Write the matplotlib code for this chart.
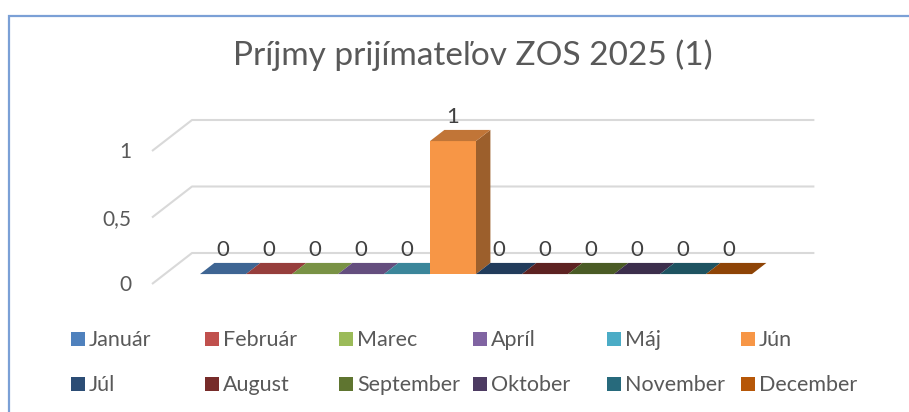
import numpy as np
import matplotlib
matplotlib.use('Agg')
import matplotlib.pyplot as plt
from matplotlib.patches import Polygon, Rectangle
import matplotlib.colors as mcolors

# data
months = ['Január', 'Február', 'Marec', 'Apríl', 'Máj', 'Jún',
          'Júl', 'August', 'September', 'Oktober', 'November', 'December']
values = [0, 0, 0, 0, 0, 1, 0, 0, 0, 0, 0, 0]
colors = ['#4F81BD', '#C0504D', '#9BBB59', '#8064A2', '#4BACC6', '#F79646',
          '#2C4D75', '#772C2A', '#5F7530', '#4D3B62', '#276A7C', '#B65708']
yticks = [0, 0.5, 1]
ytick_labels = ['0', '0,5', '1']
title = 'Príjmy prijímateľov ZOS 2025 (1)'

plt.rcParams['font.family'] = ['Lato', 'DejaVu Sans']
txt_color = '#595959'

W, H = 909, 412
fig = plt.figure(figsize=(W / 100, H / 100), dpi=100)
ax = fig.add_axes([0, 0, 1, 1])
ax.axis('off')

# layout of the fake 3d box (pixels)
slot_px = 46.0
unit_px = 133.0
org_x, org_y = 187.2, 284.0
depth_dx, depth_dy = 40.0, 31.0
ax.set_xlim(-org_x / slot_px, (W - org_x) / slot_px)
ax.set_ylim(-(H - org_y) / unit_px, org_y / unit_px)
kx = depth_dx / slot_px
kz = depth_dy / unit_px


def proj(x, z, d):
    return (x + d * kx, z + d * kz)


n = len(values)
margin = 0.765
xl, xr = -margin, n + margin

# walls / gridlines
for z in yticks:
    pts = [proj(xl, z, 0), proj(xl, z, 1), proj(xr, z, 1)]
    ax.plot([p[0] for p in pts], [p[1] for p in pts], color='#d9d9d9',
            lw=1.5, solid_capstyle='butt', zorder=1)

for z, lab in zip(yticks, ytick_labels):
    ax.annotate(lab, xy=proj(xl, z, 0), xytext=(-15, -1), textcoords='offset points',
                ha='right', va='center', fontsize=15, color=txt_color)


def shade(c, f):
    r, g, b = mcolors.to_rgb(c)
    return (r * f, g * f, b * f)


# bars
d0, d1 = 0.32, 0.68
for i, (v, c) in enumerate(zip(values, colors)):
    front = [proj(i, 0, d0), proj(i + 1, 0, d0), proj(i + 1, v, d0), proj(i, v, d0)]
    side = [proj(i + 1, 0, d0), proj(i + 1, 0, d1), proj(i + 1, v, d1), proj(i + 1, v, d0)]
    top = [proj(i, v, d0), proj(i + 1, v, d0), proj(i + 1, v, d1), proj(i, v, d1)]
    if v > 0:
        ax.add_patch(Polygon(side, closed=True, fc=shade(c, 0.63), ec='none', zorder=3))
        ax.add_patch(Polygon(front, closed=True, fc=c, ec='none', zorder=3))
    ax.add_patch(Polygon(top, closed=True, fc=shade(c, 0.78), ec='none', zorder=3))
    ax.annotate(str(v), xy=proj(i + 0.5, v, d0), xytext=(0, 17.3), textcoords='offset points',
                ha='center', va='center', fontsize=16, color='#404040')

# title
fig.text(473 / W, 1 - 65 / H, title, ha='center', va='baseline', fontsize=24, color=txt_color)

# legend (two rows of six)
for k, (name, c) in enumerate(zip(months, colors)):
    col, row = k % 6, k // 6
    x0 = 71 + col * 134
    yc = 339 + row * 45
    fig.add_artist(Rectangle((x0 / W, 1 - (yc + 7) / H), 14 / W, 14 / H,
                             transform=fig.transFigure, fc=c, ec='none'))
    fig.text((x0 + 18) / W, 1 - (yc + 7) / H, name, ha='left', va='baseline',
             fontsize=15.5, color=txt_color)

# chart border (partially visible)
fig.add_artist(Rectangle((9 / W, -0.1), 1.2, 1.1 - 16 / H, transform=fig.transFigure,
                         fill=False, ec='#7ba0d6', lw=1.6))

fig.savefig('out.png', dpi=100)
